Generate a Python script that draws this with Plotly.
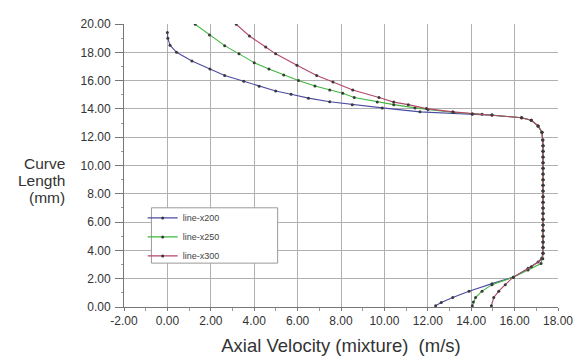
import plotly.graph_objects as go

# ---- data ----
vert_y = [11.4, 11.0, 10.6, 10.2, 9.8, 9.4, 9.0, 8.6, 8.2, 7.8, 7.4, 7.0, 6.6, 6.2, 5.8, 5.4, 5.0, 4.6, 4.2, 3.8]
vert_x = [17.31, 17.31, 17.31, 17.31, 17.31, 17.31, 17.31, 17.31, 17.31, 17.31,
          17.31, 17.31, 17.31, 17.31, 17.31, 17.31, 17.31, 17.31, 17.31, 17.31]

x200_top_x = [0.00, 0.02, 0.12, 0.42, 1.13, 1.96, 2.64, 3.52, 4.23, 4.99, 5.70, 6.50, 7.48, 8.52,
              9.90, 11.64, 14.05, 14.96, 16.32, 16.77, 17.08, 17.26, 17.30]
x200_top_y = [19.40, 19.00, 18.50, 18.00, 17.39, 16.82, 16.36, 15.95, 15.60, 15.26, 15.03, 14.76, 14.50, 14.30,
              14.07, 13.79, 13.62, 13.55, 13.38, 13.20, 12.80, 12.35, 11.80]
x200_bot_x = [17.25, 17.08, 16.62, 15.94, 14.96, 13.90, 13.15, 12.62, 12.36]
x200_bot_y = [3.45, 3.18, 2.73, 2.11, 1.65, 1.12, 0.67, 0.32, 0.09]

x250_top_x = [1.28, 1.94, 2.64, 3.30, 4.00, 4.68, 5.36, 6.04, 6.80, 7.48, 8.08, 8.61, 9.67, 10.43,
              11.41, 12.01, 13.20, 14.50, 16.32, 16.77, 17.08, 17.26, 17.30]
x250_top_y = [19.98, 19.22, 18.47, 17.89, 17.27, 16.82, 16.40, 16.01, 15.62, 15.33, 15.10, 14.80, 14.48, 14.30,
              14.07, 13.95, 13.75, 13.62, 13.38, 13.20, 12.80, 12.35, 11.80]
x250_bot_x = [17.22, 16.62, 15.94, 14.96, 14.50, 14.20, 14.10, 14.05]
x250_bot_y = [3.07, 2.61, 2.11, 1.58, 1.12, 0.67, 0.35, 0.09]

x300_top_x = [3.17, 3.78, 4.53, 4.99, 5.97, 6.88, 7.63, 8.54, 9.75, 10.43, 11.10, 11.94, 13.15,
              14.05, 14.96, 16.32, 16.77, 17.08, 17.26, 17.30]
x300_top_y = [19.98, 19.15, 18.37, 17.89, 17.09, 16.36, 15.90, 15.33, 14.80, 14.48, 14.30, 14.02, 13.79,
              13.66, 13.58, 13.38, 13.20, 12.80, 12.35, 11.80]
x300_bot_x = [17.30, 16.77, 15.94, 15.57, 15.27, 15.04, 14.93]
x300_bot_y = [3.41, 2.84, 2.11, 1.58, 1.12, 0.67, 0.09]

series_names = ["line-x200", "line-x250", "line-x300"]
series_colors = ["#4b4ba3", "#3fb83f", "#b5476a"]

x_tick_vals = [-2, 0, 2, 4, 6, 8, 10, 12, 14, 16, 18]
x_tick_text = ["-2.00", "0.00", "2.00", "4.00", "6.00", "8.00", "10.00", "12.00", "14.00", "16.00", "18.00"]
y_tick_vals = [0, 2, 4, 6, 8, 10, 12, 14, 16, 18, 20]
y_tick_text = ["0.00", "2.00", "4.00", "6.00", "8.00", "10.00", "12.00", "14.00", "16.00", "18.00", "20.00"]

y_title_lines = ["Curve", "Length", "(mm)"]
x_title = "Axial Velocity (mixture)  (m/s)"

all_x = [x200_top_x + vert_x + x200_bot_x,
         x250_top_x + vert_x + x250_bot_x,
         x300_top_x + vert_x + x300_bot_x]
all_y = [x200_top_y + vert_y + x200_bot_y,
         x250_top_y + vert_y + x250_bot_y,
         x300_top_y + vert_y + x300_bot_y]

fig = go.Figure()
for name, color, xs, ys in zip(series_names, series_colors, all_x, all_y):
    fig.add_trace(go.Scatter(
        x=xs, y=ys, name=name, mode="lines+markers",
        line=dict(color=color, width=1.1),
        marker=dict(color="#3a3a3a", size=3),
    ))

FONT = "Liberation Sans, Arial, sans-serif"
axis_font = dict(family=FONT, size=12, color="#333333")
# page body has an 8px margin: figure is 574x353 so the plot area lands at x 124-567, y 17-308
fig.update_layout(
    width=574, height=353,
    margin=dict(l=116, r=15, t=9, b=53),
    paper_bgcolor="white", plot_bgcolor="white",
    font=dict(family=FONT, color="#333333"),
    showlegend=True,
    legend=dict(
        x=0.043, y=0.366, xanchor="left", yanchor="top",
        bgcolor="rgba(0,0,0,0)", borderwidth=0,
        font=dict(size=9, color="#444444"),
    ),
    xaxis=dict(
        range=[-2, 18], tickvals=x_tick_vals, ticktext=x_tick_text,
        showgrid=True, gridcolor="#b0b0b0", gridwidth=1,
        showline=True, linecolor="#777777", linewidth=1,
        ticks="outside", ticklen=3, tickcolor="#777777",
        minor=dict(ticks="outside", ticklen=3, dtick=1, tickcolor="#999999", showgrid=False),
        tickfont=axis_font, zeroline=False, ticklabeloverflow="allow",
        title=dict(text=x_title, font=dict(size=18.5, color="#333333"), standoff=11),
    ),
    yaxis=dict(
        range=[0, 20], tickvals=y_tick_vals, ticktext=y_tick_text,
        showgrid=True, gridcolor="#b0b0b0", gridwidth=1,
        showline=True, linecolor="#777777", linewidth=1,
        ticks="outside", ticklen=8, tickcolor="#777777",
        minor=dict(ticks="outside", ticklen=2, dtick=1, tickcolor="#999999", showgrid=False),
        tickfont=axis_font, zeroline=False, ticklabelstandoff=2, ticklabeloverflow="allow",
    ),
)
# legend frame (white box with grey border)
fig.add_shape(type="rect", xref="paper", yref="paper",
              x0=0.0632, x1=0.354, y0=0.155, y1=0.3505,
              line=dict(color="#9a9a9a", width=1), fillcolor="white", layer="above")

for txt, yy in zip(y_title_lines, [0.507, 0.447, 0.387]):
    fig.add_annotation(
        text=txt, xref="paper", yref="paper",
        x=-0.131, y=yy, xanchor="right", yanchor="middle", align="right",
        showarrow=False, font=dict(size=15.5, color="#333333"),
    )
fig.write_html("out.html")
